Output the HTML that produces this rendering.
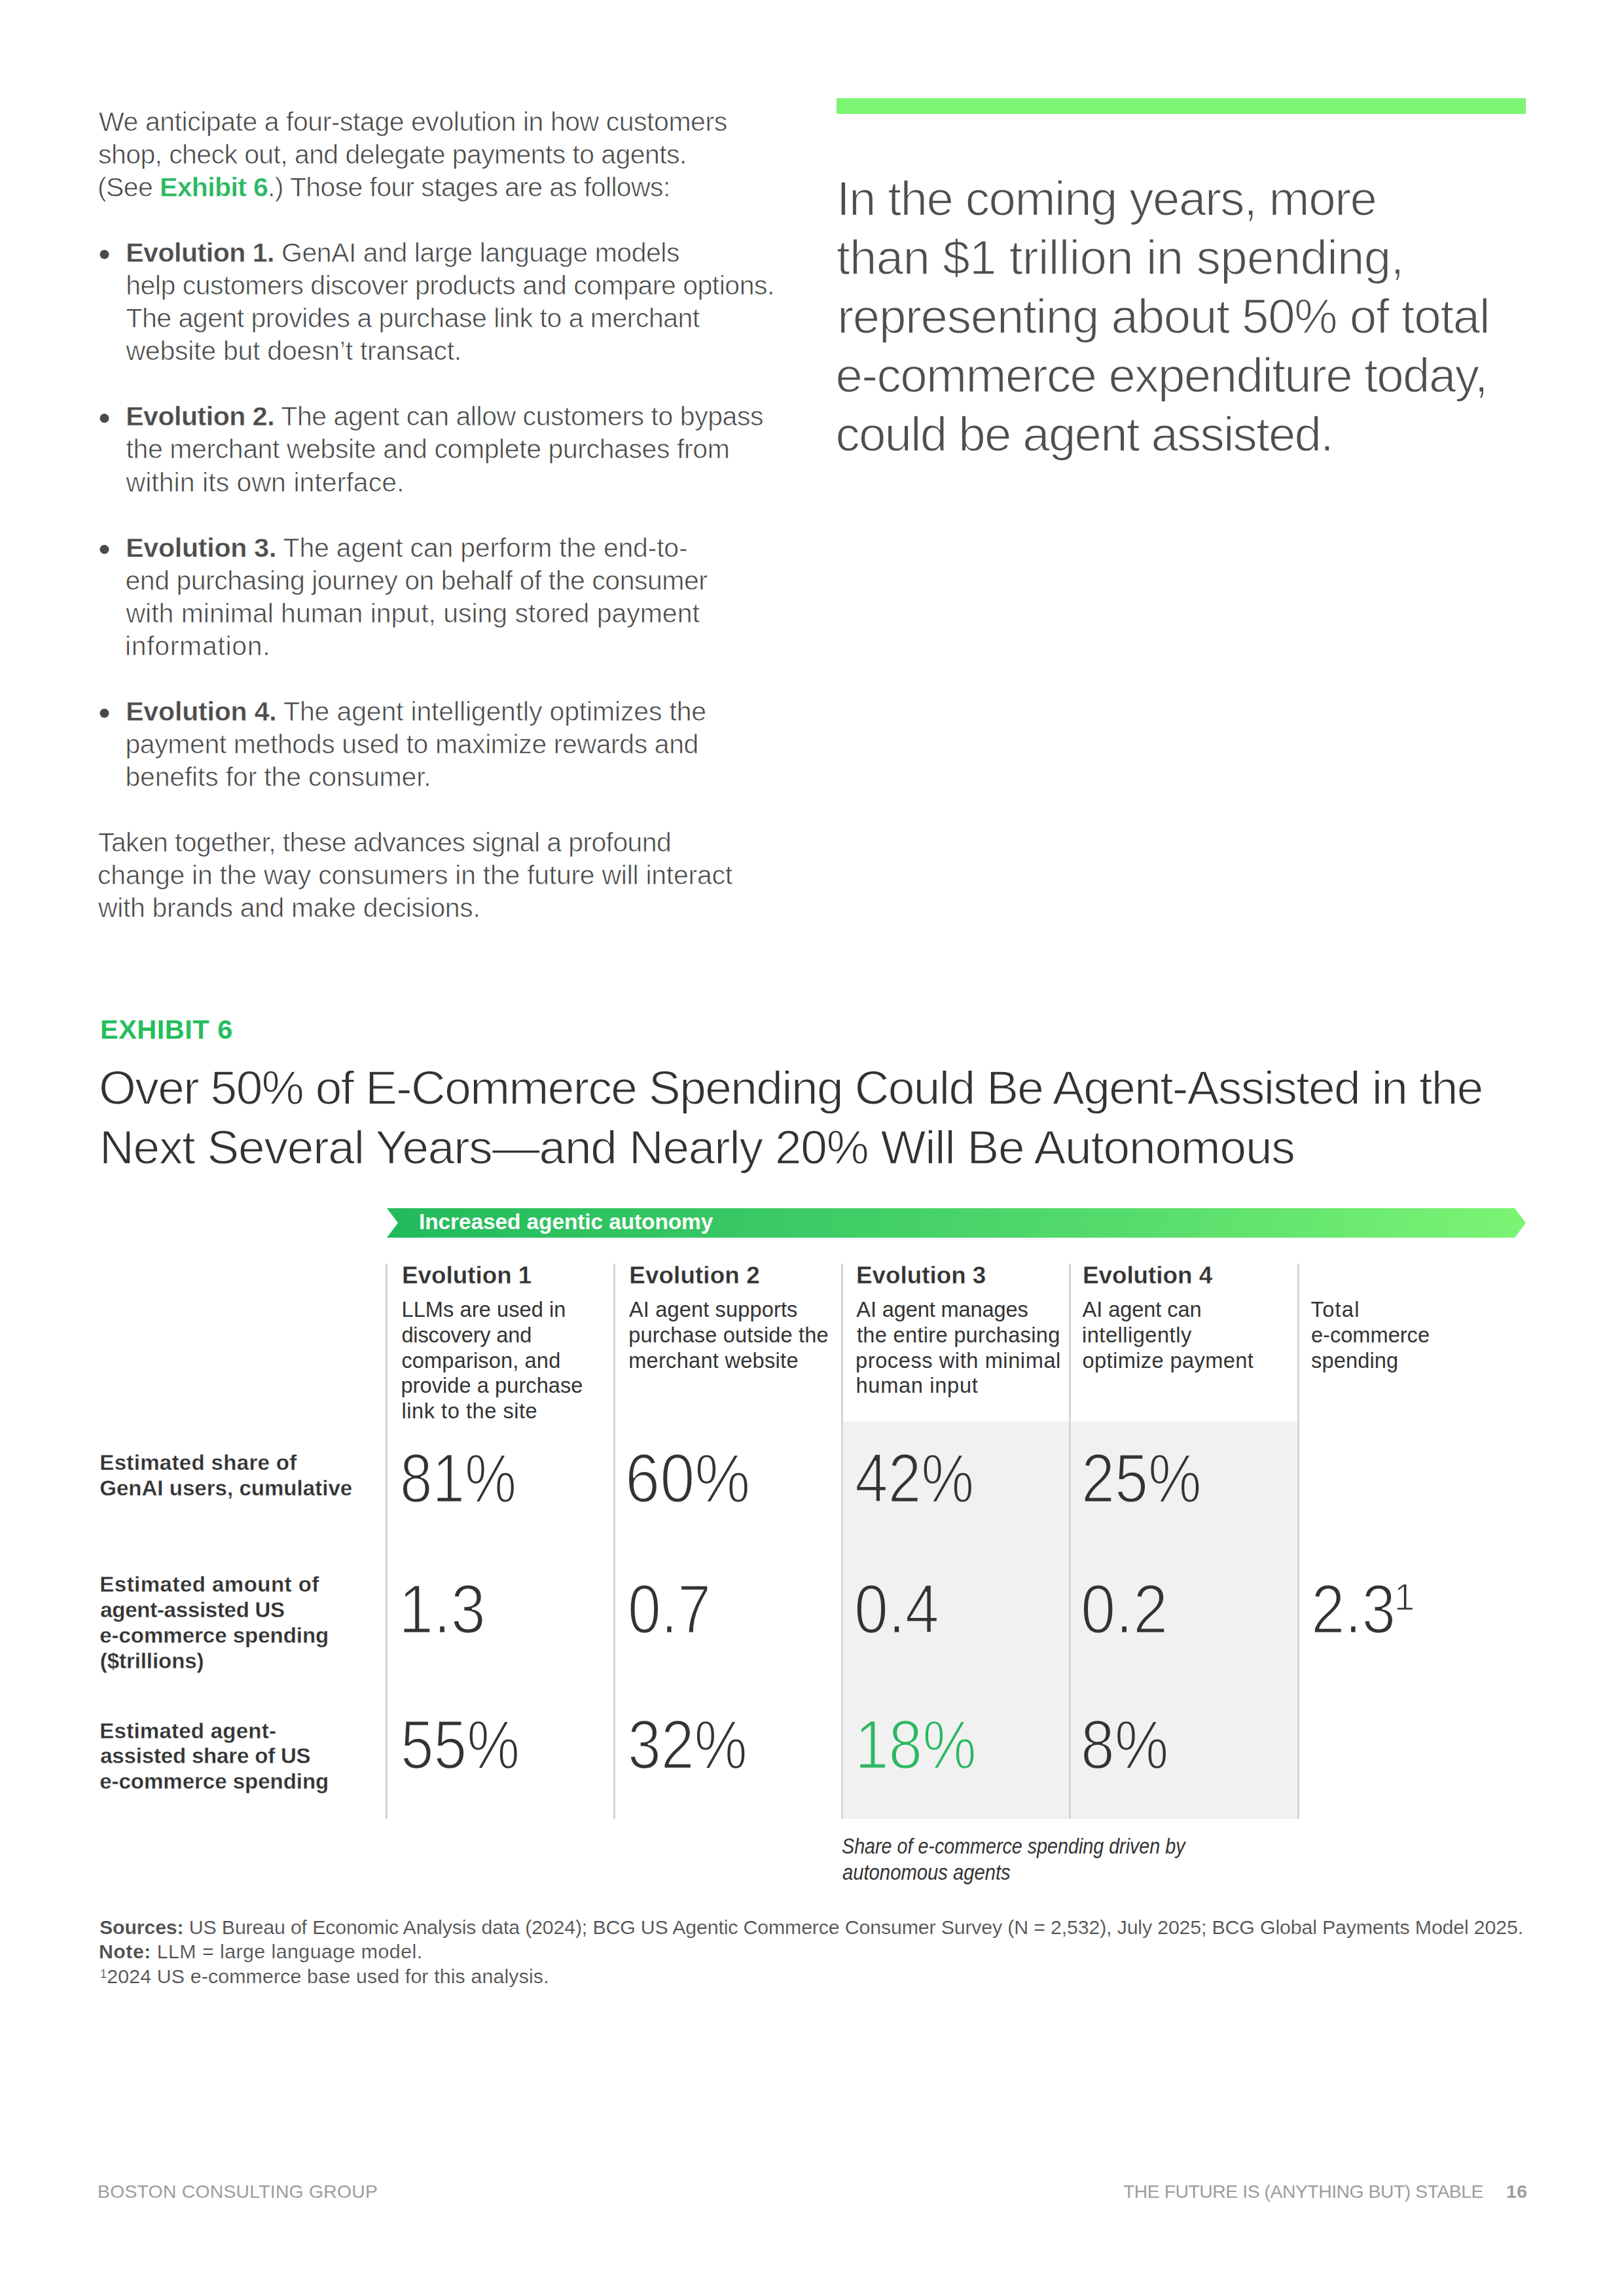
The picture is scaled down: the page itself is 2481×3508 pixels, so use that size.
<!DOCTYPE html>
<html><head><meta charset="utf-8"><title>Exhibit 6</title><style>
html,body{margin:0;padding:0;background:#fff;}
body{width:2481px;height:3508px;position:relative;overflow:hidden;font-family:"Liberation Sans",sans-serif;}
.bg{position:absolute;left:0;top:0;}
.l{position:absolute;white-space:nowrap;}
.body{color:#474747;-webkit-text-stroke:0.7px #fff;}
.body b{color:#4d4d4d;-webkit-text-stroke:0.35px #fff;}
.body b.g{color:#2bb862;}
.quote{color:#4f4f4f;-webkit-text-stroke:1.5px #fff;}
.exh{color:#24be5e;font-weight:bold;}
.title{color:#333;-webkit-text-stroke:1.3px #fff;}
.band{color:#fff;font-weight:bold;}
.colh{color:#333;font-weight:bold;-webkit-text-stroke:0.3px #fff;}
.desc{color:#333;}
.lab{color:#333;font-weight:bold;-webkit-text-stroke:0.3px #fff;}
.num{color:#333;-webkit-text-stroke:2.6px #fff;}
.num.ongray{-webkit-text-stroke-color:#f1f1f1;}
.num.sup1{-webkit-text-stroke:1.4px #fff;}
.g2{color:#2bb862;}
.cap{color:#333;font-style:italic;}
.src{color:#505050;-webkit-text-stroke:0.2px #fff;}
.src b{-webkit-text-stroke:0.15px #fff;}
.src sup.fs{font-size:18px;vertical-align:0;position:relative;top:-8px;}
.foot{color:#9c9c9c;}
</style></head>
<body>
<svg class="bg" width="2481" height="3508" viewBox="0 0 2481 3508">
<defs><linearGradient id="gr" x1="591" y1="0" x2="2331" y2="0" gradientUnits="userSpaceOnUse">
<stop offset="0" stop-color="#22bb5b"/><stop offset="0.3" stop-color="#37c764"/><stop offset="0.65" stop-color="#56dc6c"/><stop offset="1" stop-color="#7cf474"/></linearGradient></defs>
<rect x="1278" y="150" width="1053" height="24" fill="#7cf474"/>
<polygon points="591,1846 2314,1846 2331,1868.5 2314,1891 591,1891 608,1868.5" fill="url(#gr)"/>
<rect x="1288" y="2171.5" width="694" height="607.5" fill="#f1f1f1"/>
<g fill="#d5d5d5">
<rect x="589" y="1931" width="3" height="848"/>
<rect x="937" y="1931" width="3" height="848"/>
<rect x="1285" y="1931" width="3" height="848"/>
<rect x="1633" y="1931" width="3" height="848"/>
<rect x="1982" y="1931" width="3" height="848"/>
</g>
<g fill="#4a4a4a">
<circle cx="159.5" cy="388.8" r="7"/><circle cx="159.5" cy="639.1" r="7"/><circle cx="159.5" cy="839.4" r="7"/><circle cx="159.5" cy="1089.8" r="7"/>
</g>
</svg>
<div id="body0" class="l body" style="left:151.10px;top:160.79px;font-size:41px;line-height:51px;letter-spacing:-0.456px;">We anticipate a four-stage evolution in how customers</div>
<div id="body1" class="l body" style="left:150.10px;top:210.86px;font-size:41px;line-height:51px;letter-spacing:-0.594px;">shop, check out, and delegate payments to agents.</div>
<div id="body2" class="l body" style="left:149.10px;top:260.93px;font-size:41px;line-height:51px;letter-spacing:-0.633px;">(See <b class="g">Exhibit 6</b>.) Those four stages are as follows:</div>
<div id="body3" class="l body" style="left:192.20px;top:361.07px;font-size:41px;line-height:51px;letter-spacing:-0.458px;"><b>Evolution 1.</b> GenAI and large language models</div>
<div id="body4" class="l body" style="left:192.20px;top:411.14px;font-size:41px;line-height:51px;letter-spacing:-0.485px;">help customers discover products and compare options.</div>
<div id="body5" class="l body" style="left:192.50px;top:461.21px;font-size:41px;line-height:51px;letter-spacing:-0.500px;">The agent provides a purchase link to a merchant</div>
<div id="body6" class="l body" style="left:192.50px;top:511.28px;font-size:41px;line-height:51px;letter-spacing:-0.246px;">website but doesn’t transact.</div>
<div id="body7" class="l body" style="left:192.20px;top:611.42px;font-size:41px;line-height:51px;letter-spacing:-0.453px;"><b>Evolution 2.</b> The agent can allow customers to bypass</div>
<div id="body8" class="l body" style="left:192.50px;top:661.49px;font-size:41px;line-height:51px;letter-spacing:-0.400px;">the merchant website and complete purchases from</div>
<div id="body9" class="l body" style="left:192.50px;top:711.56px;font-size:41px;line-height:51px;letter-spacing:0.046px;">within its own interface.</div>
<div id="body10" class="l body" style="left:192.20px;top:811.70px;font-size:41px;line-height:51px;letter-spacing:-0.202px;"><b>Evolution 3.</b> The agent can perform the end-to-</div>
<div id="body11" class="l body" style="left:191.50px;top:861.77px;font-size:41px;line-height:51px;letter-spacing:-0.472px;">end purchasing journey on behalf of the consumer</div>
<div id="body12" class="l body" style="left:192.50px;top:911.84px;font-size:41px;line-height:51px;letter-spacing:-0.024px;">with minimal human input, using stored payment</div>
<div id="body13" class="l body" style="left:190.90px;top:961.91px;font-size:41px;line-height:51px;letter-spacing:0.682px;">information.</div>
<div id="body14" class="l body" style="left:192.20px;top:1062.05px;font-size:41px;line-height:51px;letter-spacing:-0.161px;"><b>Evolution 4.</b> The agent intelligently optimizes the</div>
<div id="body15" class="l body" style="left:191.40px;top:1112.12px;font-size:41px;line-height:51px;letter-spacing:-0.402px;">payment methods used to maximize rewards and</div>
<div id="body16" class="l body" style="left:191.40px;top:1162.19px;font-size:41px;line-height:51px;letter-spacing:-0.176px;">benefits for the consumer.</div>
<div id="body17" class="l body" style="left:150.00px;top:1262.33px;font-size:41px;line-height:51px;letter-spacing:-0.621px;">Taken together, these advances signal a profound</div>
<div id="body18" class="l body" style="left:149.10px;top:1312.40px;font-size:41px;line-height:51px;letter-spacing:-0.269px;">change in the way consumers in the future will interact</div>
<div id="body19" class="l body" style="left:150.00px;top:1362.47px;font-size:41px;line-height:51px;letter-spacing:-0.367px;">with brands and make decisions.</div>
<div id="quote0" class="l quote" style="left:1277.90px;top:256.99px;font-size:74.5px;line-height:93px;letter-spacing:-1.467px;">In the coming years, more</div>
<div id="quote1" class="l quote" style="left:1278.00px;top:346.99px;font-size:74.5px;line-height:93px;letter-spacing:-0.679px;">than $1 trillion in spending,</div>
<div id="quote2" class="l quote" style="left:1279.20px;top:436.99px;font-size:74.5px;line-height:93px;letter-spacing:-1.270px;">representing about 50% of total</div>
<div id="quote3" class="l quote" style="left:1276.50px;top:526.99px;font-size:74.5px;line-height:93px;letter-spacing:-1.611px;">e-commerce expenditure today,</div>
<div id="quote4" class="l quote" style="left:1276.50px;top:616.99px;font-size:74.5px;line-height:93px;letter-spacing:-1.835px;">could be agent assisted.</div>
<div id="exh" class="l exh" style="left:153.00px;top:1547.32px;font-size:41.5px;line-height:52px;letter-spacing:0.500px;">EXHIBIT 6</div>
<div id="title0" class="l title" style="left:151.00px;top:1615.51px;font-size:73px;line-height:91px;letter-spacing:-1.574px;">Over 50% of E-Commerce Spending Could Be Agent-Assisted in the</div>
<div id="title1" class="l title" style="left:152.00px;top:1707.01px;font-size:73px;line-height:91px;letter-spacing:-1.176px;">Next Several Years—and Nearly 20% Will Be Autonomous</div>
<div id="band" class="l band" style="left:640.00px;top:1846.39px;font-size:33.5px;line-height:42px;letter-spacing:-0.120px;">Increased agentic autonomy</div>
<div id="colh0" class="l colh" style="left:614.00px;top:1926.25px;font-size:36.8px;line-height:46px;letter-spacing:0.000px;">Evolution 1</div>
<div id="colh1" class="l colh" style="left:961.30px;top:1926.25px;font-size:36.8px;line-height:46px;letter-spacing:0.100px;">Evolution 2</div>
<div id="colh2" class="l colh" style="left:1308.00px;top:1926.25px;font-size:36.8px;line-height:46px;letter-spacing:0.000px;">Evolution 3</div>
<div id="colh3" class="l colh" style="left:1653.90px;top:1926.25px;font-size:36.8px;line-height:46px;letter-spacing:-0.000px;">Evolution 4</div>
<div id="desc0_0" class="l desc" style="left:613.50px;top:1980.20px;font-size:32.6px;line-height:41px;letter-spacing:0.067px;">LLMs are used in</div>
<div id="desc0_1" class="l desc" style="left:613.40px;top:2018.90px;font-size:32.6px;line-height:41px;letter-spacing:-0.167px;">discovery and</div>
<div id="desc0_2" class="l desc" style="left:613.40px;top:2057.60px;font-size:32.6px;line-height:41px;letter-spacing:0.143px;">comparison, and</div>
<div id="desc0_3" class="l desc" style="left:612.40px;top:2096.30px;font-size:32.6px;line-height:41px;letter-spacing:0.059px;">provide a purchase</div>
<div id="desc0_4" class="l desc" style="left:613.50px;top:2135.00px;font-size:32.6px;line-height:41px;letter-spacing:0.533px;">link to the site</div>
<div id="desc1_0" class="l desc" style="left:961.00px;top:1980.20px;font-size:32.6px;line-height:41px;letter-spacing:0.125px;">AI agent supports</div>
<div id="desc1_1" class="l desc" style="left:960.20px;top:2018.90px;font-size:32.6px;line-height:41px;letter-spacing:0.158px;">purchase outside the</div>
<div id="desc1_2" class="l desc" style="left:960.20px;top:2057.60px;font-size:32.6px;line-height:41px;letter-spacing:0.267px;">merchant website</div>
<div id="desc2_0" class="l desc" style="left:1308.30px;top:1980.20px;font-size:32.6px;line-height:41px;letter-spacing:-0.133px;">AI agent manages</div>
<div id="desc2_1" class="l desc" style="left:1309.00px;top:2018.90px;font-size:32.6px;line-height:41px;letter-spacing:0.300px;">the entire purchasing</div>
<div id="desc2_2" class="l desc" style="left:1307.00px;top:2057.60px;font-size:32.6px;line-height:41px;letter-spacing:0.579px;">process with minimal</div>
<div id="desc2_3" class="l desc" style="left:1307.50px;top:2096.30px;font-size:32.6px;line-height:41px;letter-spacing:0.700px;">human input</div>
<div id="desc3_0" class="l desc" style="left:1653.60px;top:1980.20px;font-size:32.6px;line-height:41px;letter-spacing:-0.091px;">AI agent can</div>
<div id="desc3_1" class="l desc" style="left:1653.00px;top:2018.90px;font-size:32.6px;line-height:41px;letter-spacing:0.500px;">intelligently</div>
<div id="desc3_2" class="l desc" style="left:1653.50px;top:2057.60px;font-size:32.6px;line-height:41px;letter-spacing:0.400px;">optimize payment</div>
<div id="desc4_0" class="l desc" style="left:2002.60px;top:1980.20px;font-size:32.6px;line-height:41px;letter-spacing:1.250px;">Total</div>
<div id="desc4_1" class="l desc" style="left:2003.00px;top:2018.90px;font-size:32.6px;line-height:41px;letter-spacing:0.000px;">e-commerce</div>
<div id="desc4_2" class="l desc" style="left:2003.00px;top:2057.60px;font-size:32.6px;line-height:41px;letter-spacing:0.143px;">spending</div>
<div id="lab0_0" class="l lab" style="left:152.30px;top:2214.37px;font-size:33px;line-height:41px;letter-spacing:0.335px;">Estimated share of</div>
<div id="lab0_1" class="l lab" style="left:152.20px;top:2253.12px;font-size:33px;line-height:41px;letter-spacing:0.036px;">GenAI users, cumulative</div>
<div id="lab1_0" class="l lab" style="left:152.30px;top:2400.27px;font-size:33px;line-height:41px;letter-spacing:0.483px;">Estimated amount of</div>
<div id="lab1_1" class="l lab" style="left:153.20px;top:2439.02px;font-size:33px;line-height:41px;letter-spacing:-0.262px;">agent-assisted US</div>
<div id="lab1_2" class="l lab" style="left:152.20px;top:2477.77px;font-size:33px;line-height:41px;letter-spacing:-0.011px;">e-commerce spending</div>
<div id="lab1_3" class="l lab" style="left:152.80px;top:2516.52px;font-size:33px;line-height:41px;letter-spacing:-0.073px;">($trillions)</div>
<div id="lab2_0" class="l lab" style="left:152.30px;top:2623.57px;font-size:33px;line-height:41px;letter-spacing:0.247px;">Estimated agent-</div>
<div id="lab2_1" class="l lab" style="left:153.20px;top:2662.32px;font-size:33px;line-height:41px;letter-spacing:-0.168px;">assisted share of US</div>
<div id="lab2_2" class="l lab" style="left:152.20px;top:2701.07px;font-size:33px;line-height:41px;letter-spacing:-0.011px;">e-commerce spending</div>
<div id="num0_0" class="l num" style="left:611.40px;top:2193.32px;font-size:105px;line-height:131px;transform:scaleX(0.8478);transform-origin:0 0;">81%</div>
<div id="num0_1" class="l num" style="left:955.00px;top:2193.32px;font-size:105px;line-height:131px;transform:scaleX(0.9108);transform-origin:0 0;">60%</div>
<div id="num0_2" class="l num ongray" style="left:1306.00px;top:2193.32px;font-size:105px;line-height:131px;transform:scaleX(0.8675);transform-origin:0 0;">42%</div>
<div id="num0_3" class="l num ongray" style="left:1652.00px;top:2193.32px;font-size:105px;line-height:131px;transform:scaleX(0.8738);transform-origin:0 0;">25%</div>
<div id="num1_0" class="l num" style="left:609.00px;top:2392.92px;font-size:105px;line-height:131px;transform:scaleX(0.9105);transform-origin:0 0;">1.3</div>
<div id="num1_1" class="l num" style="left:958.60px;top:2392.92px;font-size:105px;line-height:131px;transform:scaleX(0.8704);transform-origin:0 0;">0.7</div>
<div id="num1_2" class="l num ongray" style="left:1305.30px;top:2392.92px;font-size:105px;line-height:131px;transform:scaleX(0.8893);transform-origin:0 0;">0.4</div>
<div id="num1_3" class="l num ongray" style="left:1650.50px;top:2392.92px;font-size:105px;line-height:131px;transform:scaleX(0.9128);transform-origin:0 0;">0.2</div>
<div id="num1_4" class="l num" style="left:2003.00px;top:2392.92px;font-size:105px;line-height:131px;transform:scaleX(0.8840);transform-origin:0 0;">2.3</div>
<div id="num2_0" class="l num" style="left:612.00px;top:2600.12px;font-size:105px;line-height:131px;transform:scaleX(0.8663);transform-origin:0 0;">55%</div>
<div id="num2_1" class="l num" style="left:958.60px;top:2600.12px;font-size:105px;line-height:131px;transform:scaleX(0.8700);transform-origin:0 0;">32%</div>
<div id="num2_2" class="l num ongray" style="left:1306.00px;top:2600.12px;font-size:105px;line-height:131px;transform:scaleX(0.8837);transform-origin:0 0;"><span class="g2">18%</span></div>
<div id="num2_3" class="l num ongray" style="left:1650.50px;top:2600.12px;font-size:105px;line-height:131px;transform:scaleX(0.8861);transform-origin:0 0;">8%</div>
<div id="sup" class="l num sup1" style="left:2130.00px;top:2403.90px;font-size:58px;line-height:72px;transform:scaleX(0.9682);transform-origin:0 0;">1</div>
<div id="cap0" class="l cap" style="left:1286.00px;top:2800.47px;font-size:33px;line-height:41px;transform:scaleX(0.8692);transform-origin:0 0;">Share of e-commerce spending driven by</div>
<div id="cap1" class="l cap" style="left:1287.00px;top:2839.77px;font-size:33px;line-height:41px;transform:scaleX(0.8855);transform-origin:0 0;">autonomous agents</div>
<div id="src0" class="l src" style="left:152.00px;top:2926.20px;font-size:30.3px;line-height:38px;letter-spacing:-0.147px;"><b>Sources:</b> US Bureau of Economic Analysis data (2024); BCG US Agentic Commerce Consumer Survey (N = 2,532), July 2025; BCG Global Payments Model 2025.</div>
<div id="src1" class="l src" style="left:151.00px;top:2963.20px;font-size:30.3px;line-height:38px;letter-spacing:0.469px;"><b>Note:</b> LLM = large language model.</div>
<div id="src2" class="l src" style="left:153.00px;top:3000.50px;font-size:30.3px;line-height:38px;letter-spacing:0.149px;"><sup class="fs">1</sup>2024 US e-commerce base used for this analysis.</div>
<div id="footL" class="l foot" style="left:149.00px;top:3330.69px;font-size:28.3px;line-height:35px;letter-spacing:0.273px;">BOSTON CONSULTING GROUP</div>
<div id="footR" class="l foot" style="left:1716.00px;top:3330.99px;font-size:28.3px;line-height:35px;letter-spacing:-0.441px;">THE FUTURE IS (ANYTHING BUT) STABLE</div>
<div id="foot16" class="l foot" style="left:2301.00px;top:3330.99px;font-size:28.3px;line-height:35px;letter-spacing:0.500px;"><b>16</b></div>
</body></html>
